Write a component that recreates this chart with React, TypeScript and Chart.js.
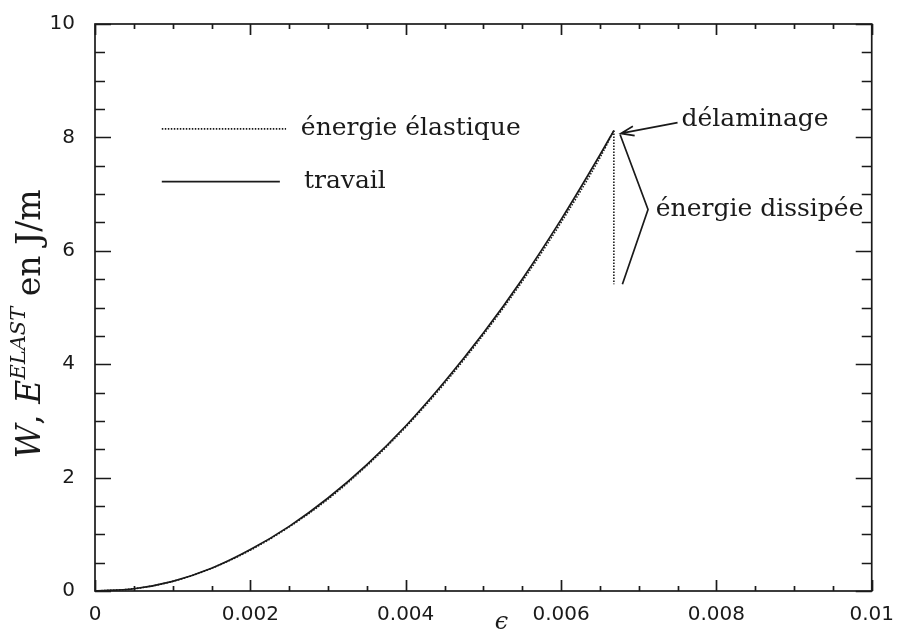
import React, { useEffect, useRef } from "react";
import { Chart, registerables } from "chart.js";

Chart.register(...registerables);

// strain values (epsilon)
const strain = [0, 0.0005, 0.001, 0.0015, 0.002, 0.0025, 0.003, 0.0035, 0.004, 0.0045, 0.005, 0.0055, 0.006, 0.0065, 0.00668];
// work W (J/m), solid line
const travail = [0, 0.04, 0.17, 0.4, 0.73, 1.14, 1.64, 2.23, 2.91, 3.69, 4.55, 5.5, 6.55, 7.69, 8.12];
// elastic energy E^ELAST (J/m), dotted line
const elastique = [0, 0.04, 0.17, 0.4, 0.72, 1.13, 1.62, 2.21, 2.89, 3.66, 4.52, 5.46, 6.5, 7.64, 8.12];
// elastic energy drop at delamination
const dropStrain = [0.00668, 0.00668];
const dropEnergy = [8.12, 5.41];

const xTickLabels = ["0", "0.002", "0.004", "0.006", "0.008", "0.01"];
const yTickLabels = ["0", "2", "4", "6", "8", "10"];

const INK = "#1a1a1a";
const SERIF = "'DejaVu Serif', serif";
const SANS = "'DejaVu Sans', sans-serif";

const decorPlugin = {
  id: "decor",
  afterDraw(chart: any) {
    const { ctx, chartArea: a, scales } = chart;
    const xs = scales.x;
    const ys = scales.y;
    const X = (v: number) => xs.getPixelForValue(v);
    const Y = (v: number) => ys.getPixelForValue(v);
    ctx.save();
    ctx.strokeStyle = INK;
    ctx.fillStyle = INK;
    ctx.lineWidth = 1.7;
    // frame
    ctx.strokeRect(a.left, a.top, a.right - a.left, a.bottom - a.top);
    // ticks (inward on all sides)
    const xMajor = xs.ticks.map((t: any) => t.value);
    const yMajor = ys.ticks.map((t: any) => t.value);
    const xStep = xMajor[1] - xMajor[0];
    const yStep = yMajor[1] - yMajor[0];
    ctx.beginPath();
    for (let i = 0; i < xMajor.length; i++) {
      for (let k = 0; k < 4; k++) {
        const v = xMajor[i] + (k * xStep) / 4;
        if (v > xs.max + 1e-12) continue;
        const px = Math.round(X(v)) + 0.5;
        const len = k === 0 ? 11 : 5;
        ctx.moveTo(px, a.bottom);
        ctx.lineTo(px, a.bottom - len);
        ctx.moveTo(px, a.top);
        ctx.lineTo(px, a.top + len);
      }
    }
    for (let i = 0; i < yMajor.length; i++) {
      for (let k = 0; k < 4; k++) {
        const v = yMajor[i] + (k * yStep) / 4;
        if (v > ys.max + 1e-12) continue;
        const py = Math.round(Y(v)) + 0.5;
        const len = k === 0 ? 16 : 10;
        ctx.moveTo(a.left, py);
        ctx.lineTo(a.left + len, py);
        ctx.moveTo(a.right, py);
        ctx.lineTo(a.right - len, py);
      }
    }
    ctx.stroke();

    // legend samples
    ctx.lineWidth = 1.6;
    ctx.setLineDash([1.5, 1.5]);
    ctx.beginPath();
    ctx.moveTo(X(0.00086), Y(8.15));
    ctx.lineTo(X(0.00246), Y(8.15));
    ctx.stroke();
    ctx.setLineDash([]);
    ctx.beginPath();
    ctx.moveTo(X(0.00086), Y(7.22));
    ctx.lineTo(X(0.00238), Y(7.22));
    ctx.stroke();

    ctx.font = `25px ${SERIF}`;
    ctx.textBaseline = "middle";
    ctx.textAlign = "left";
    ctx.fillText("énergie élastique", X(0.00265), Y(8.15));
    ctx.fillText("travail", X(0.00269), Y(7.22));
    ctx.fillText("délaminage", X(0.00755), Y(8.31));
    ctx.fillText("énergie dissipée", X(0.00722), Y(6.73));

    // arrow to delamination point
    const ax0 = X(0.0075), ay0 = Y(8.26);
    const ax1 = X(0.00677), ay1 = Y(8.07);
    ctx.lineWidth = 1.7;
    ctx.beginPath();
    ctx.moveTo(ax0, ay0);
    ctx.lineTo(ax1, ay1);
    const ang = Math.atan2(ay0 - ay1, ax0 - ax1);
    const hl = 14;
    ctx.moveTo(ax1 + hl * Math.cos(ang + 0.35), ay1 + hl * Math.sin(ang + 0.35));
    ctx.lineTo(ax1, ay1);
    ctx.lineTo(ax1 + hl * Math.cos(ang - 0.35), ay1 + hl * Math.sin(ang - 0.35));
    ctx.stroke();

    // brace for dissipated energy
    ctx.beginPath();
    ctx.moveTo(X(0.00676), Y(8.05));
    ctx.lineTo(X(0.00712), Y(6.73));
    ctx.lineTo(X(0.00679), Y(5.41));
    ctx.stroke();

    // x title
    ctx.font = `italic 24px ${SERIF}`;
    ctx.textAlign = "center";
    ctx.fillText("ϵ", (a.left + a.right) / 2 + 18, a.bottom + 32);

    // y title (rotated)
    const parts = [
      { t: "W", f: `italic 33px ${SERIF}`, dy: 0 },
      { t: ", ", f: `33px ${SERIF}`, dy: 0 },
      { t: "E", f: `italic 33px ${SERIF}`, dy: 0 },
      { t: "ELAST", f: `italic 21px ${SERIF}`, dy: -11 },
      { t: " en J/m", f: `33px ${SERIF}`, dy: 0 },
    ];
    let total = 0;
    const widths = parts.map((p) => {
      ctx.font = p.f;
      const w = ctx.measureText(p.t).width;
      total += w;
      return w;
    });
    ctx.translate(31, 324);
    ctx.rotate(-Math.PI / 2);
    ctx.textAlign = "left";
    ctx.textBaseline = "middle";
    let cx = -total / 2;
    parts.forEach((p, i) => {
      ctx.font = p.f;
      ctx.fillText(p.t, cx, p.dy);
      cx += widths[i];
    });
    ctx.restore();
  },
};

export default function App() {
  const ref = useRef<HTMLCanvasElement>(null);
  useEffect(() => {
    document.body.style.margin = "0";
    const canvas = ref.current!;
    const chart = new Chart(canvas, {
      type: "scatter",
      data: {
        datasets: [
          {
            label: "travail",
            data: strain.map((x, i) => ({ x, y: travail[i] })),
            showLine: true,
            borderColor: INK,
            borderWidth: 1.7,
            pointRadius: 0,
            cubicInterpolationMode: "monotone",
          },
          {
            label: "énergie élastique",
            data: strain.map((x, i) => ({ x, y: elastique[i] })),
            showLine: true,
            borderColor: INK,
            borderWidth: 1.6,
            borderDash: [1.5, 1.5],
            pointRadius: 0,
            cubicInterpolationMode: "monotone",
          },
          {
            label: "chute",
            data: dropStrain.map((x, i) => ({ x, y: dropEnergy[i] })),
            showLine: true,
            borderColor: INK,
            borderWidth: 1.6,
            borderDash: [1.5, 1.5],
            pointRadius: 0,
          },
        ],
      },
      options: {
        responsive: false,
        animation: false,
        layout: { padding: { top: 22, right: 23, left: 0, bottom: 0 } },
        plugins: { legend: { display: false }, tooltip: { enabled: false } },
        scales: {
          x: {
            type: "linear",
            min: 0,
            max: 0.01,
            grid: { display: false },
            border: { display: false },
            ticks: {
              stepSize: 0.002,
              padding: 4,
              color: INK,
              font: { family: SANS, size: 20 },
              callback: (_v: any, i: number) => xTickLabels[i],
              maxRotation: 0,
              autoSkip: false,
            },
            afterFit: (s: any) => {
              s.height = 52;
            },
          },
          y: {
            type: "linear",
            min: 0,
            max: 10,
            grid: { display: false },
            border: { display: false },
            ticks: {
              stepSize: 2,
              padding: 12,
              color: INK,
              font: { family: SANS, size: 20 },
              callback: (_v: any, i: number) => yTickLabels[i],
              autoSkip: false,
            },
            afterFit: (s: any) => {
              s.width = 95;
            },
          },
        },
      },
      plugins: [decorPlugin],
    } as any);
    return () => chart.destroy();
  }, []);
  return (
    <div style={{ width: 898, height: 643, background: "#fff" }}>
      <canvas ref={ref} width={898} height={643} />
    </div>
  );
}
